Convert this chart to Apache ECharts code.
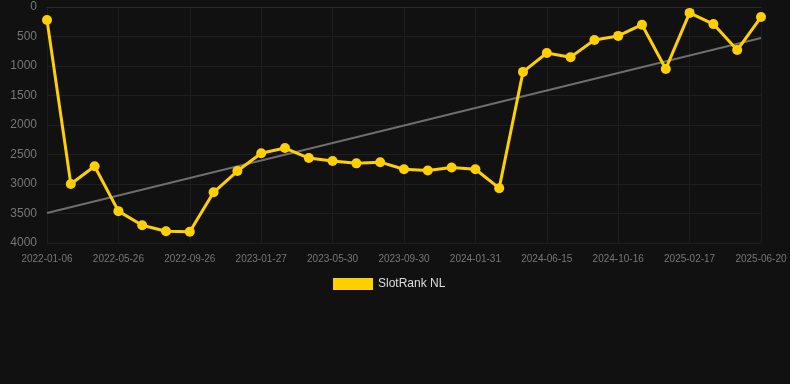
<!DOCTYPE html>
<html>
<head>
<meta charset="utf-8">
<script src="https://cdn.jsdelivr.net/npm/echarts@6/dist/echarts.min.js"></script>
<style>
html,body{margin:0;padding:0;background:#111111;}
#c{width:790px;height:384px;}
</style>
</head>
<body>
<div id="c"></div>
<script>
const dates = [
  '2022-01-06','2022-02-22','2022-04-09','2022-05-26','2022-06-26','2022-07-27',
  '2022-09-26','2022-10-29','2022-12-25','2023-01-27','2023-02-27','2023-03-30',
  '2023-05-30','2023-06-30','2023-07-30','2023-09-30','2023-10-31','2023-12-01',
  '2024-01-31','2024-03-15','2024-05-01','2024-06-15','2024-07-16','2024-08-16',
  '2024-10-16','2024-11-16','2024-12-17','2025-02-17','2025-03-20','2025-04-20',
  '2025-06-20'
];
const rankValues = [
  220, 3000, 2700, 3460, 3700, 3800, 3810, 3140, 2780, 2480, 2390, 2560,
  2610, 2650, 2630, 2750, 2770, 2720, 2750, 3070, 1100, 780, 850, 560,
  490, 300, 1050, 100, 290, 730, 170
];
const trendStart = 3490;
const trendEnd = 525;
const yTicks = [0, 500, 1000, 1500, 2000, 2500, 3000, 3500, 4000];

const chart = echarts.init(document.getElementById('c'));
chart.setOption({
  backgroundColor: '#111111',
  animation: false,
  grid: {left: 47, right: 29, top: 7, bottom: 141, containLabel: false},
  legend: {
    data: ['SlotRank NL'],
    top: 273,
    left: 328,
    icon: 'rect',
    itemWidth: 40,
    itemHeight: 12,
    itemGap: 6,
    textStyle: {color: '#dddddd', fontSize: 12}
  },
  xAxis: {
    type: 'category',
    data: dates,
    boundaryGap: false,
    axisLine: {show: true, lineStyle: {color: '#2a2a2a'}},
    axisTick: {show: false},
    axisLabel: {color: '#777777', fontSize: 10, interval: 2, margin: 11},
    splitLine: {show: true, interval: 2, lineStyle: {color: '#1c1c1c'}}
  },
  yAxis: {
    type: 'value',
    inverse: true,
    min: yTicks[0],
    max: yTicks[yTicks.length - 1],
    interval: 500,
    axisLine: {show: false},
    axisTick: {show: false},
    axisLabel: {color: '#777777', fontSize: 12, margin: 10, formatter: function (v) { return String(v); }},
    splitLine: {show: true, lineStyle: {color: '#1f1f1f'}}
  },
  series: [
    {
      name: 'SlotRank NL',
      type: 'line',
      data: rankValues,
      color: '#ffd000',
      lineStyle: {width: 3, color: '#ffd000'},
      itemStyle: {color: '#ffd000'},
      symbol: 'circle',
      symbolSize: 10,
      z: 3
    },
    {
      name: 'Trend',
      type: 'line',
      data: [[0, trendStart], [dates.length - 1, trendEnd]],
      symbol: 'none',
      lineStyle: {width: 2, color: '#6e6e6e'},
      z: 2
    }
  ]
});
</script>
</body>
</html>
